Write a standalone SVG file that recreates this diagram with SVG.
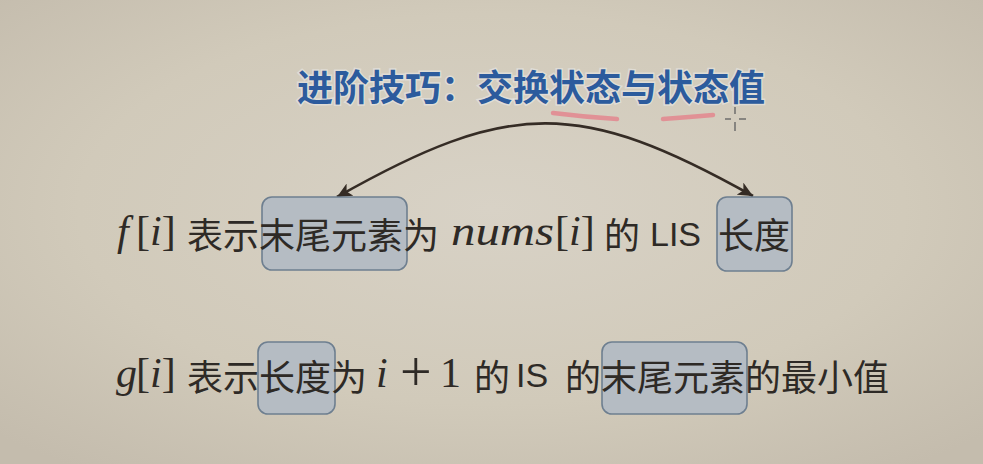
<svg xmlns="http://www.w3.org/2000/svg" width="983" height="464" viewBox="0 0 983 464">
  <defs>
    <radialGradient id="bg" cx="50%" cy="45%" r="70%">
      <stop offset="0" stop-color="#d8d2c6"/>
      <stop offset="0.6" stop-color="#d1caba"/>
      <stop offset="1" stop-color="#c4bcad"/>
    </radialGradient>
    <marker id="head" markerUnits="userSpaceOnUse" markerWidth="16" markerHeight="14" viewBox="0 0 16 14" refX="15" refY="7" orient="auto-start-reverse">
      <path d="M0,0 L15,7 L0,14 L4,7 Z" fill="#352c25"/>
    </marker>
    <style>
      .box { fill: #b5bcc3; stroke: #6e7f90; stroke-width: 1.6; }
      .cjk { font-family: "Noto Sans CJK SC", "Noto Sans", sans-serif; font-size: 36px; fill: #2e2a26; }
      .sans { font-family: "Liberation Sans", Arial, sans-serif; font-size: 34px; fill: #2e2a26; }
      .math { font-family: "Liberation Serif", "Times New Roman", serif; font-size: 42px; fill: #2e2a26; }
      .it { font-style: italic; }
      .title { font-family: "Noto Sans CJK SC", "Noto Sans", sans-serif; font-size: 36px; font-weight: 700; fill: #2c5b9d; stroke: rgba(240,242,246,0.45); stroke-width: 3; paint-order: stroke; }
      .conn { fill: none; stroke: #352c25; stroke-width: 2.6; }
      .mark { fill: none; stroke: #e3868e; stroke-opacity: 0.85; stroke-width: 4.5; stroke-linecap: round; }
    </style>
  </defs>

  <rect x="0" y="0" width="983" height="464" fill="url(#bg)"/>

  <g id="title">
    <text class="title" x="297" y="101">进阶技巧：交换状态与状态值</text>
    <path class="mark" d="M553,113 Q585,117 617,119"/>
    <path class="mark" d="M663,119 Q690,117 713,115"/>
    <g stroke="#6a6a6a" stroke-width="1.8" opacity="0.8">
      <line x1="735" y1="107" x2="735" y2="114"/>
      <line x1="735" y1="122" x2="735" y2="131"/>
      <line x1="725" y1="119" x2="731" y2="119"/>
      <line x1="739" y1="119" x2="746" y2="119"/>
    </g>
  </g>

  <g id="connectors">
    <path class="conn" d="M337,197 C510,99 580,99 753,196" marker-start="url(#head)" marker-end="url(#head)"/>
  </g>

  <g id="node-f-tail">
    <rect class="box" x="262" y="197" width="145" height="73" rx="10"/>
  </g>
  <g id="node-f-length">
    <rect class="box" x="717" y="197" width="75" height="74" rx="10"/>
  </g>
  <g id="node-g-length">
    <rect class="box" x="258" y="342" width="77" height="72" rx="10"/>
  </g>
  <g id="node-g-tail">
    <rect class="box" x="602" y="342" width="145" height="72" rx="10"/>
  </g>

  <g id="line-f">
    <text class="math" y="245"><tspan class="it" x="117">f</tspan><tspan x="136">[</tspan><tspan class="it">i</tspan><tspan>]</tspan></text>
    <text class="cjk" x="187" y="249">表示末尾元素为</text>
    <text class="math it" x="451" y="245" textLength="103" lengthAdjust="spacingAndGlyphs">nums</text>
    <text class="math" x="555" y="245">[<tspan class="it">i</tspan>]</text>
    <text class="cjk" x="604" y="249">的</text>
    <text class="sans" x="650" y="246">LIS</text>
    <text class="cjk" x="718" y="249">长度</text>
  </g>

  <g id="line-g">
    <text class="math" y="387"><tspan class="it" x="116">g</tspan><tspan x="136">[</tspan><tspan class="it">i</tspan><tspan>]</tspan></text>
    <text class="cjk" x="187" y="391">表示长度为</text>
    <text class="math" y="387"><tspan class="it" x="376">i</tspan><tspan x="400" dy="4" style="font-size:56px">+</tspan><tspan x="440" dy="-4">1</tspan></text>
    <text class="cjk" x="474" y="391">的</text>
    <text class="sans" x="516" y="387">IS</text>
    <text class="cjk" x="565" y="391">的末尾元素的最小值</text>
  </g>
</svg>
